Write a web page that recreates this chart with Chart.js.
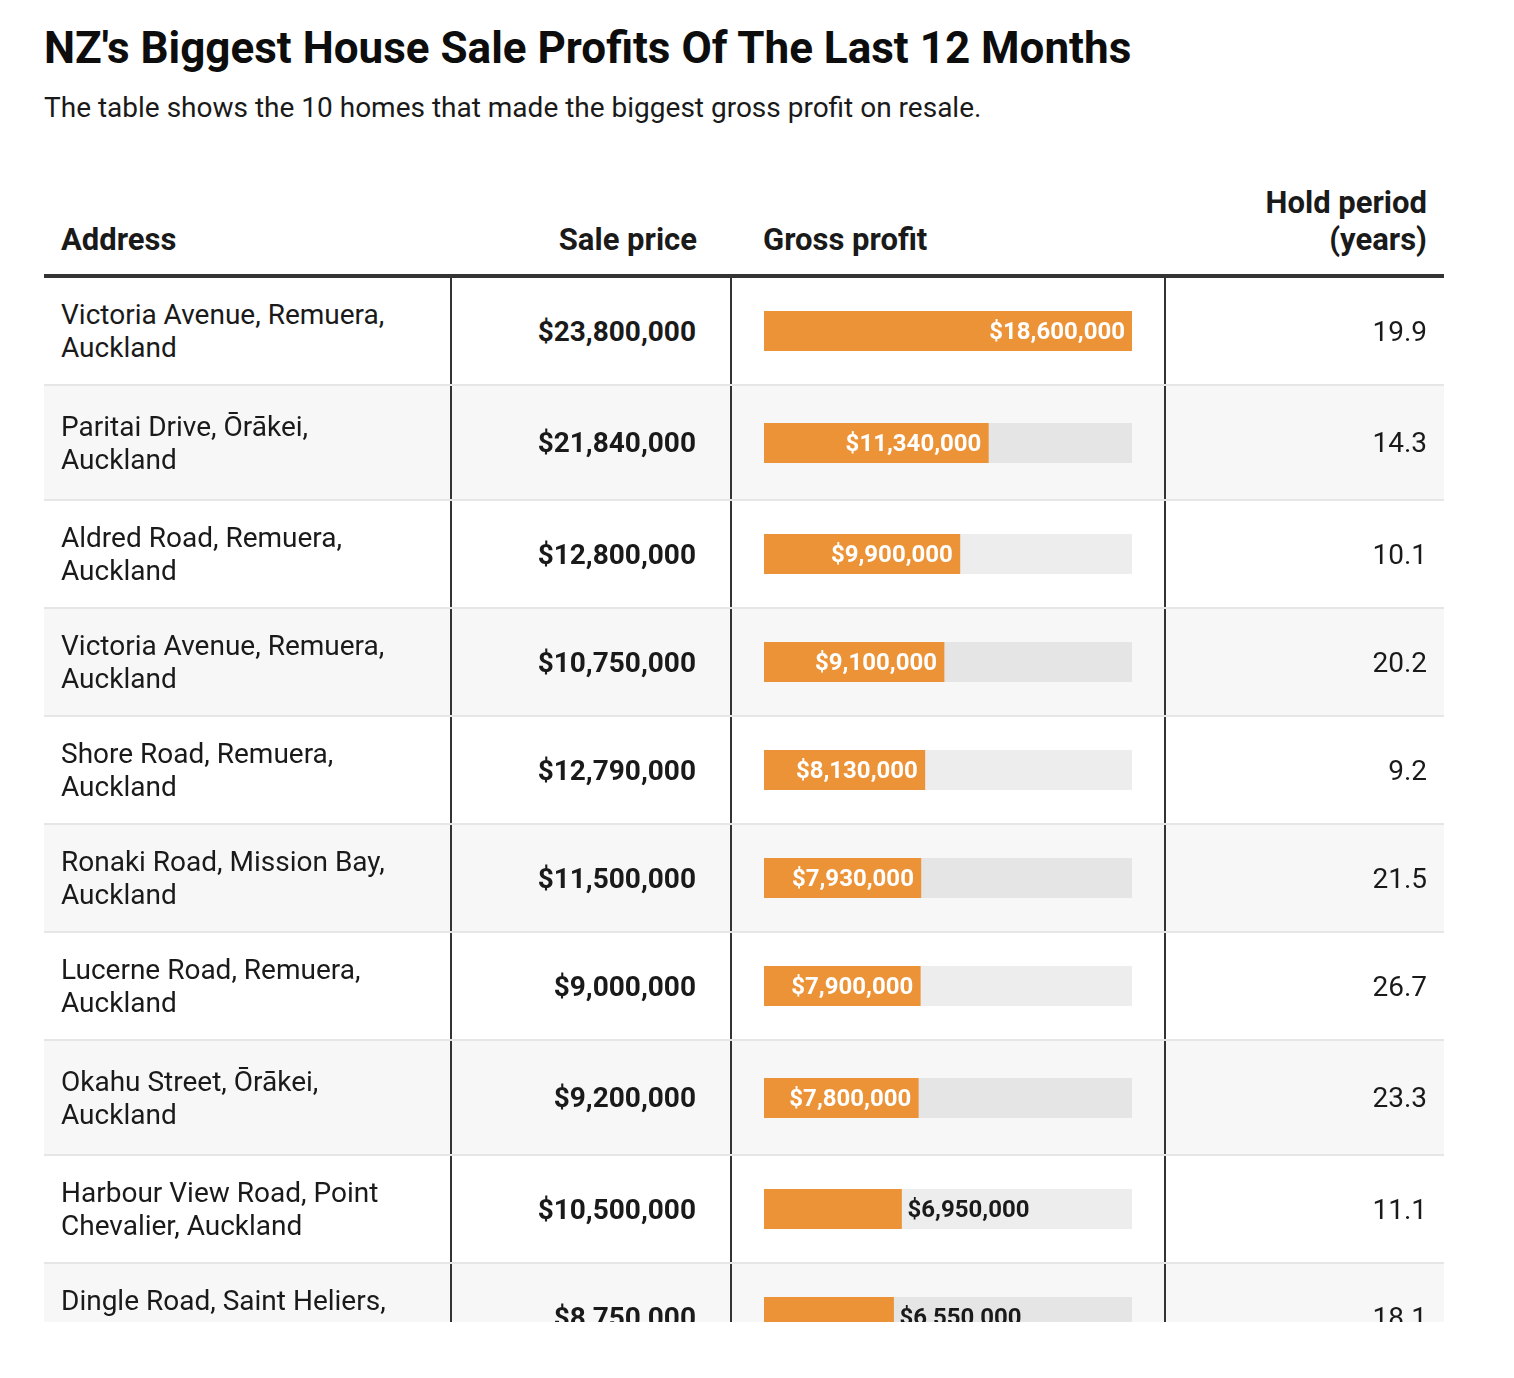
<!DOCTYPE html>
<html>
<head>
<meta charset="utf-8">
<script src="https://cdn.jsdelivr.net/npm/chart.js@4.4.1/dist/chart.umd.min.js"></script>
<style>
  body { margin: 0; background: #fff; font-family: Roboto, "Noto Sans", sans-serif; color: #1a1a1a; }
  .wrap { position: absolute; left: 44px; top: 0; width: 1400px; height: 1322px; overflow: hidden; }
  h1 { font-size: 44px; font-weight: 700; margin: 23px 0 0 0; line-height: 50px; color: #0d0d0d; }
  .sub { font-size: 28px; margin: 18px 0 0 0; line-height: 34px; }
  table { border-collapse: collapse; width: 1400px; margin-top: 59px; table-layout: fixed; }
  th { font-size: 31px; font-weight: 700; vertical-align: bottom; padding: 0 17px 16px 17px; line-height: 37px; border-bottom: 4px solid #333; }
  td { font-size: 28px; line-height: 33px; padding: 0 17px; height: 106px; border-bottom: 2px solid #e6e6e6; vertical-align: middle; }
  tbody tr:nth-child(even) td { background: #f7f7f7; }
  tbody tr.tall td { height: 113px; }
  td.c1 { padding-right: 45px; }
  td.c1, td.c2 { border-right: 2px solid #333; }
  td.c2 { font-weight: 700; text-align: right; padding-right: 34px; }
  td.c3 { padding: 0 33px 0 32px; border-right: 2px solid #333; }
  td.c4 { text-align: right; }
  th.r { text-align: right; }
  th.sp { padding-right: 34px; }
  th.g { padding-left: 32px; text-align: left; }
  th.l { text-align: left; }
  .bar { width: 368px; height: 40px; }
  .bar canvas { display: block; }
</style>
</head>
<body>
<div class="wrap">
  <h1>NZ's Biggest House Sale Profits Of The Last 12 Months</h1>
  <p class="sub">The table shows the 10 homes that made the biggest gross profit on resale.</p>
  <table>
    <colgroup><col style="width:407px"><col style="width:280px"><col style="width:434px"><col style="width:279px"></colgroup>
    <thead>
      <tr><th class="l">Address</th><th class="r sp">Sale price</th><th class="g">Gross profit</th><th class="r">Hold period<br>(years)</th></tr>
    </thead>
    <tbody id="rows"></tbody>
  </table>
</div>
<script>
const addresses = [
  "Victoria Avenue, Remuera, Auckland",
  "Paritai Drive, Ōrākei, Auckland",
  "Aldred Road, Remuera, Auckland",
  "Victoria Avenue, Remuera, Auckland",
  "Shore Road, Remuera, Auckland",
  "Ronaki Road, Mission Bay, Auckland",
  "Lucerne Road, Remuera, Auckland",
  "Okahu Street, Ōrākei, Auckland",
  "Harbour View Road, Point Chevalier, Auckland",
  "Dingle Road, Saint Heliers, Auckland"
]
const salePrices = [23800000, 21840000, 12800000, 10750000, 12790000, 11500000, 9000000, 9200000, 10500000, 8750000]
const grossProfits = [18600000, 11340000, 9900000, 9100000, 8130000, 7930000, 7900000, 7800000, 6950000, 6550000]
const holdYears = [19.9, 14.3, 10.1, 20.2, 9.2, 21.5, 26.7, 23.3, 11.1, 18.1]

const money = v => '$' + v.toLocaleString('en-US')
const maxProfit = Math.max(...grossProfits)

// draws the value inside the bar if it fits, otherwise just after it
const barLabel = {
  id: 'barLabel',
  afterDatasetsDraw(chart) {
    const ctx = chart.ctx
    const bar = chart.getDatasetMeta(0).data[0]
    const value = chart.data.datasets[0].data[0]
    const text = money(value)
    ctx.save()
    ctx.font = '700 24px Roboto'
    ctx.textBaseline = 'alphabetic'
    const w = ctx.measureText(text).width
    const barW = bar.x - bar.base
    if (w + 20 < barW) {
      ctx.fillStyle = '#fff'
      ctx.textAlign = 'right'
      ctx.fillText(text, bar.x - 7, bar.y + 8)
    } else {
      ctx.fillStyle = '#1a1a1a'
      ctx.textAlign = 'left'
      ctx.fillText(text, bar.x + 6, bar.y + 8)
    }
    ctx.restore()
  }
}

const tbody = document.getElementById('rows')
addresses.forEach((addr, i) => {
  const tr = document.createElement('tr')
  if (i === 1 || i === 7) tr.className = 'tall'
  tr.innerHTML =
    '<td class="c1">' + addr + '</td>' +
    '<td class="c2">' + money(salePrices[i]) + '</td>' +
    '<td class="c3"><div class="bar"><canvas width="368" height="40"></canvas></div></td>' +
    '<td class="c4">' + holdYears[i].toFixed(1) + '</td>'
  tbody.appendChild(tr)

  const canvas = tr.querySelector('canvas')
  new Chart(canvas.getContext('2d'), {
    type: 'bar',
    data: {
      labels: [addr],
      datasets: [
        { data: [grossProfits[i]], backgroundColor: '#ec9338', order: 0 },
        { data: [maxProfit], backgroundColor: 'rgba(0,0,0,0.07)', order: 1 }
      ]
    },
    options: {
      indexAxis: 'y',
      responsive: false,
      animation: false,
      grouped: false,
      barPercentage: 1,
      categoryPercentage: 1,
      layout: { padding: 0 },
      scales: {
        x: { display: false, min: 0, max: maxProfit },
        y: { display: false }
      },
      plugins: {
        legend: { display: false },
        tooltip: { enabled: false }
      }
    },
    plugins: [barLabel]
  })
})
</script>
</body>
</html>
